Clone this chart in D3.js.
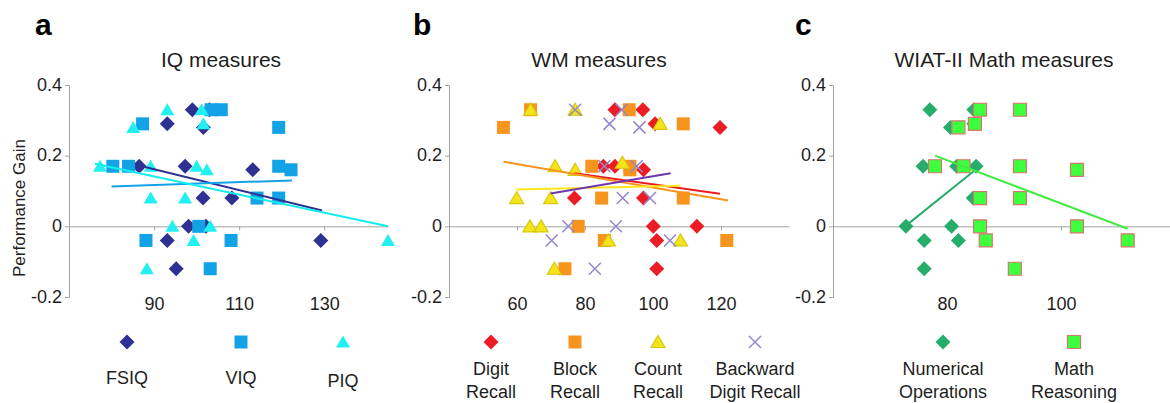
<!DOCTYPE html>
<html>
<head>
<meta charset="utf-8">
<script src="https://cdn.jsdelivr.net/npm/d3@7"></script>
<style>
  body { margin: 0; background: #fff; }
  svg { display: block; font-family: "Liberation Sans", Arial, sans-serif; }
</style>
</head>
<body>
<svg id="chart" width="1170" height="403"></svg>
<script>
// ---- data (x = score, y = performance gain) ----
const yTicks = [-0.2, 0, 0.2, 0.4];

// a: IQ measures
const iqTicks = [90, 110, 130];
const fsiq = [[99, 0.33], [103, 0.33], [93.1, 0.29], [101.6, 0.28], [86.5, 0.17], [97.3, 0.17],
  [113.2, 0.16], [101.5, 0.08], [108.3, 0.08], [98.1, 0], [102.2, 0], [93.1, -0.04],
  [129.2, -0.04], [95.2, -0.12]];
const viq = [[103.4, 0.33], [105.8, 0.33], [87.3, 0.29], [119.3, 0.28], [80.3, 0.17], [84, 0.17],
  [119.3, 0.17], [122.2, 0.16], [114.2, 0.08], [119.3, 0.08], [100.5, 0], [88.1, -0.04],
  [108.1, -0.04], [103.2, -0.12]];
const piq = [[93.1, 0.33], [101.2, 0.33], [101.6, 0.29], [85.1, 0.28], [77.3, 0.17], [89.2, 0.17],
  [100, 0.17], [102.4, 0.16], [89.2, 0.08], [97.3, 0.08], [94.3, 0], [103.2, 0],
  [99.3, -0.04], [145, -0.04], [88.3, -0.12]];
const fsiqFit = [[85.5, 0.175], [129.5, 0.045]];
const viqFit = [[80, 0.113], [122.4, 0.13]];
const piqFit = [[76.1, 0.177], [145, 0]];

// b: WM measures
const wmTicks = [60, 80, 100, 120];
const digit = [[88.8, 0.33], [97, 0.33], [100.6, 0.29], [119.7, 0.28], [85.4, 0.17], [88.8, 0.17],
  [97.2, 0.16], [76.9, 0.08], [97.2, 0.08], [100.1, 0], [112.9, 0], [101.1, -0.04], [101.1, -0.12]];
const block = [[64, 0.33], [93, 0.33], [108.9, 0.29], [56, 0.28], [82, 0.17], [93.2, 0.17],
  [93.2, 0.16], [84.9, 0.08], [108.9, 0.08], [78, 0], [85.7, -0.04], [121.7, -0.04], [74.1, -0.12]];
const count = [[64, 0.33], [77.1, 0.33], [102.1, 0.29], [71.2, 0.17], [77.1, 0.16], [91, 0.18],
  [59.9, 0.08], [69.9, 0.08], [63.8, 0], [67.1, 0], [86.9, -0.04], [108.1, -0.04], [71, -0.12]];
const backward = [[77.1, 0.33], [90.8, 0.33], [87.2, 0.29], [96, 0.28], [85.7, 0.17], [95.2, 0.17],
  [91.1, 0.08], [99.1, 0.08], [75.1, 0], [89.1, 0], [70.2, -0.04], [105, -0.04], [82.9, -0.12]];
const digitFit = [[76.9, 0.15], [119.7, 0.092]];
const blockFit = [[56, 0.183], [122.1, 0.073]];
const countFit = [[59.9, 0.104], [108.1, 0.115]];
const backwardFit = [[69.9, 0.093], [105.2, 0.15]];

// c: WIAT-II Math measures
const mathTicks = [80, 100];
const numOps = [[77, 0.33], [84.7, 0.33], [84.7, 0.29], [80.6, 0.28], [75.8, 0.17], [81.7, 0.17],
  [85.1, 0.17], [84.6, 0.08], [72.8, 0], [80.8, 0], [76, -0.04], [82, -0.04], [76, -0.12]];
const mathReasoning = [[85.8, 0.33], [92.8, 0.33], [84.9, 0.29], [82, 0.28], [77.9, 0.17], [82.9, 0.17],
  [92.8, 0.17], [102.8, 0.16], [85.8, 0.08], [92.8, 0.08], [85.8, 0], [102.8, 0],
  [86.8, -0.04], [111.7, -0.04], [91.9, -0.12]];
const numOpsFit = [[72.8, 0.002], [85, 0.16]];
const mathReasoningFit = [[77.9, 0.2], [111.7, -0.007]];

// ---- layout ----
const axisColor = "#a3a3a3";
const textColor = "#1e1e1e";
const y = d3.scaleLinear().domain([-0.2, 0.4]).range([297, 85]);

const panels = [
  {
    letter: "a", letterX: 35, title: "IQ measures", titleX: 221,
    xDomain: [70, 145], xRange: [69, 388], ticks: iqTicks,
    series: [
      { label: ["FSIQ"], pts: fsiq, fit: fsiqFit, shape: "diamond", fill: "#2e3192", line: "#2e3192", lx: 127, ly: 384 },
      { label: ["VIQ"], pts: viq, fit: viqFit, shape: "square", fill: "#12a3e6", line: "#12a3e6", lx: 241, ly: 384 },
      { label: ["PIQ"], pts: piq, fit: piqFit, shape: "triangle", fill: "#22f0f0", line: "#10eeee", lx: 343, ly: 387 }
    ]
  },
  {
    letter: "b", letterX: 413, title: "WM measures", titleX: 599,
    xDomain: [40, 140], xRange: [449, 789], ticks: wmTicks,
    series: [
      { label: ["Digit", "Recall"], pts: digit, fit: digitFit, shape: "diamond", fill: "#ec1c24", line: "#ec1c24", lx: 491, ly: 375 },
      { label: ["Block", "Recall"], pts: block, fit: blockFit, shape: "square", fill: "#f7941d", line: "#f7941d", lx: 575, ly: 375 },
      { label: ["Count", "Recall"], pts: count, fit: countFit, shape: "triangle", fill: "#f4e41c", stroke: "#d8c70c", line: "#ffe81a", lx: 658, ly: 375 },
      { label: ["Backward", "Digit Recall"], pts: backward, fit: backwardFit, shape: "cross", fill: "#9585cc", line: "#7236b0", lx: 755, ly: 375 }
    ]
  },
  {
    letter: "c", letterX: 795, title: "WIAT-II Math measures", titleX: 1004,
    xDomain: [60, 120], xRange: [833, 1175], ticks: mathTicks,
    series: [
      { label: ["Numerical", "Operations"], pts: numOps, fit: numOpsFit, shape: "diamond", fill: "#27ad6b", line: "#27ad6b", lx: 943, ly: 375 },
      { label: ["Math", "Reasoning"], pts: mathReasoning, fit: mathReasoningFit, shape: "square", fill: "#3dff3d", stroke: "#d9756e", line: "#40ec40", lx: 1074, ly: 375 }
    ]
  }
];

const shapes = {
  diamond: "M0,-7.5L7.5,0L0,7.5L-7.5,0Z",
  square: "M-6.5,-6.5H6.5V6.5H-6.5Z",
  triangle: "M0,-6.5L7,5.5L-7,5.5Z",
  cross: "M-6,-6L6,6M-6,6L6,-6"
};

const drawMarker = (sel, s) => {
  const cross = s.shape === "cross";
  sel.attr("d", shapes[s.shape])
    .attr("fill", cross ? "none" : s.fill)
    .attr("stroke", cross ? s.fill : (s.stroke || "none"))
    .attr("stroke-width", cross ? 1.5 : 1.2);
};

const svg = d3.select("#chart");

panels.forEach((p) => {
  const x = d3.scaleLinear().domain(p.xDomain).range(p.xRange);
  const g = svg.append("g");

  // panel letter + title
  g.append("text").attr("x", p.letterX).attr("y", 35)
    .attr("font-size", 30).attr("font-weight", "bold").attr("fill", "#000").text(p.letter);
  g.append("text").attr("x", p.titleX).attr("y", 67).attr("text-anchor", "middle")
    .attr("font-size", 21).attr("fill", textColor).text(p.title);

  // y axis
  const yAxis = g.append("g").attr("transform", `translate(${p.xRange[0]},0)`)
    .call(d3.axisLeft(y).tickValues(yTicks).tickSize(4).tickPadding(3)
      .tickFormat((d) => (d === 0 ? "0" : d.toFixed(1))));

  // x axis sits on the zero line, labels go below the plot
  const xAxis = g.append("g").attr("transform", `translate(0,${y(0)})`)
    .call(d3.axisBottom(x).tickValues(p.ticks).tickSize(4).tickSizeOuter(0).tickFormat(d3.format("d")));
  xAxis.selectAll("text").attr("y", y(-0.2) + 13 - y(0)).attr("dy", 0);

  [yAxis, xAxis].forEach((a) => {
    a.select(".domain").attr("stroke", axisColor);
    a.selectAll(".tick line").attr("stroke", axisColor);
    a.selectAll("text").attr("font-size", 18).attr("fill", textColor)
      .attr("font-family", "Liberation Sans, Arial, sans-serif");
  });
  yAxis.selectAll("text").attr("dy", "0.28em");

  // markers, then fitted lines on top
  p.series.forEach((s) => {
    g.append("g").selectAll("path").data(s.pts).join("path")
      .attr("transform", (d) => `translate(${x(d[0])},${y(d[1])})`)
      .call(drawMarker, s);
  });
  const line = d3.line().x((d) => x(d[0])).y((d) => y(d[1]));
  p.series.forEach((s) => {
    g.append("path").datum(s.fit).attr("d", line)
      .attr("fill", "none").attr("stroke", s.line).attr("stroke-width", 2);
  });

  // legend
  p.series.forEach((s) => {
    g.append("path").attr("transform", `translate(${s.lx},342)`).call(drawMarker, s);
    const t = g.append("text").attr("text-anchor", "middle").attr("font-size", 18).attr("fill", textColor);
    s.label.forEach((l, i) => {
      t.append("tspan").attr("x", s.lx).attr("y", s.ly + i * 23).text(l);
    });
  });
});

// shared y title
svg.append("text").attr("transform", "translate(25,277) rotate(-90)")
  .attr("font-size", 17).attr("fill", textColor).text("Performance Gain");
</script>
</body>
</html>
